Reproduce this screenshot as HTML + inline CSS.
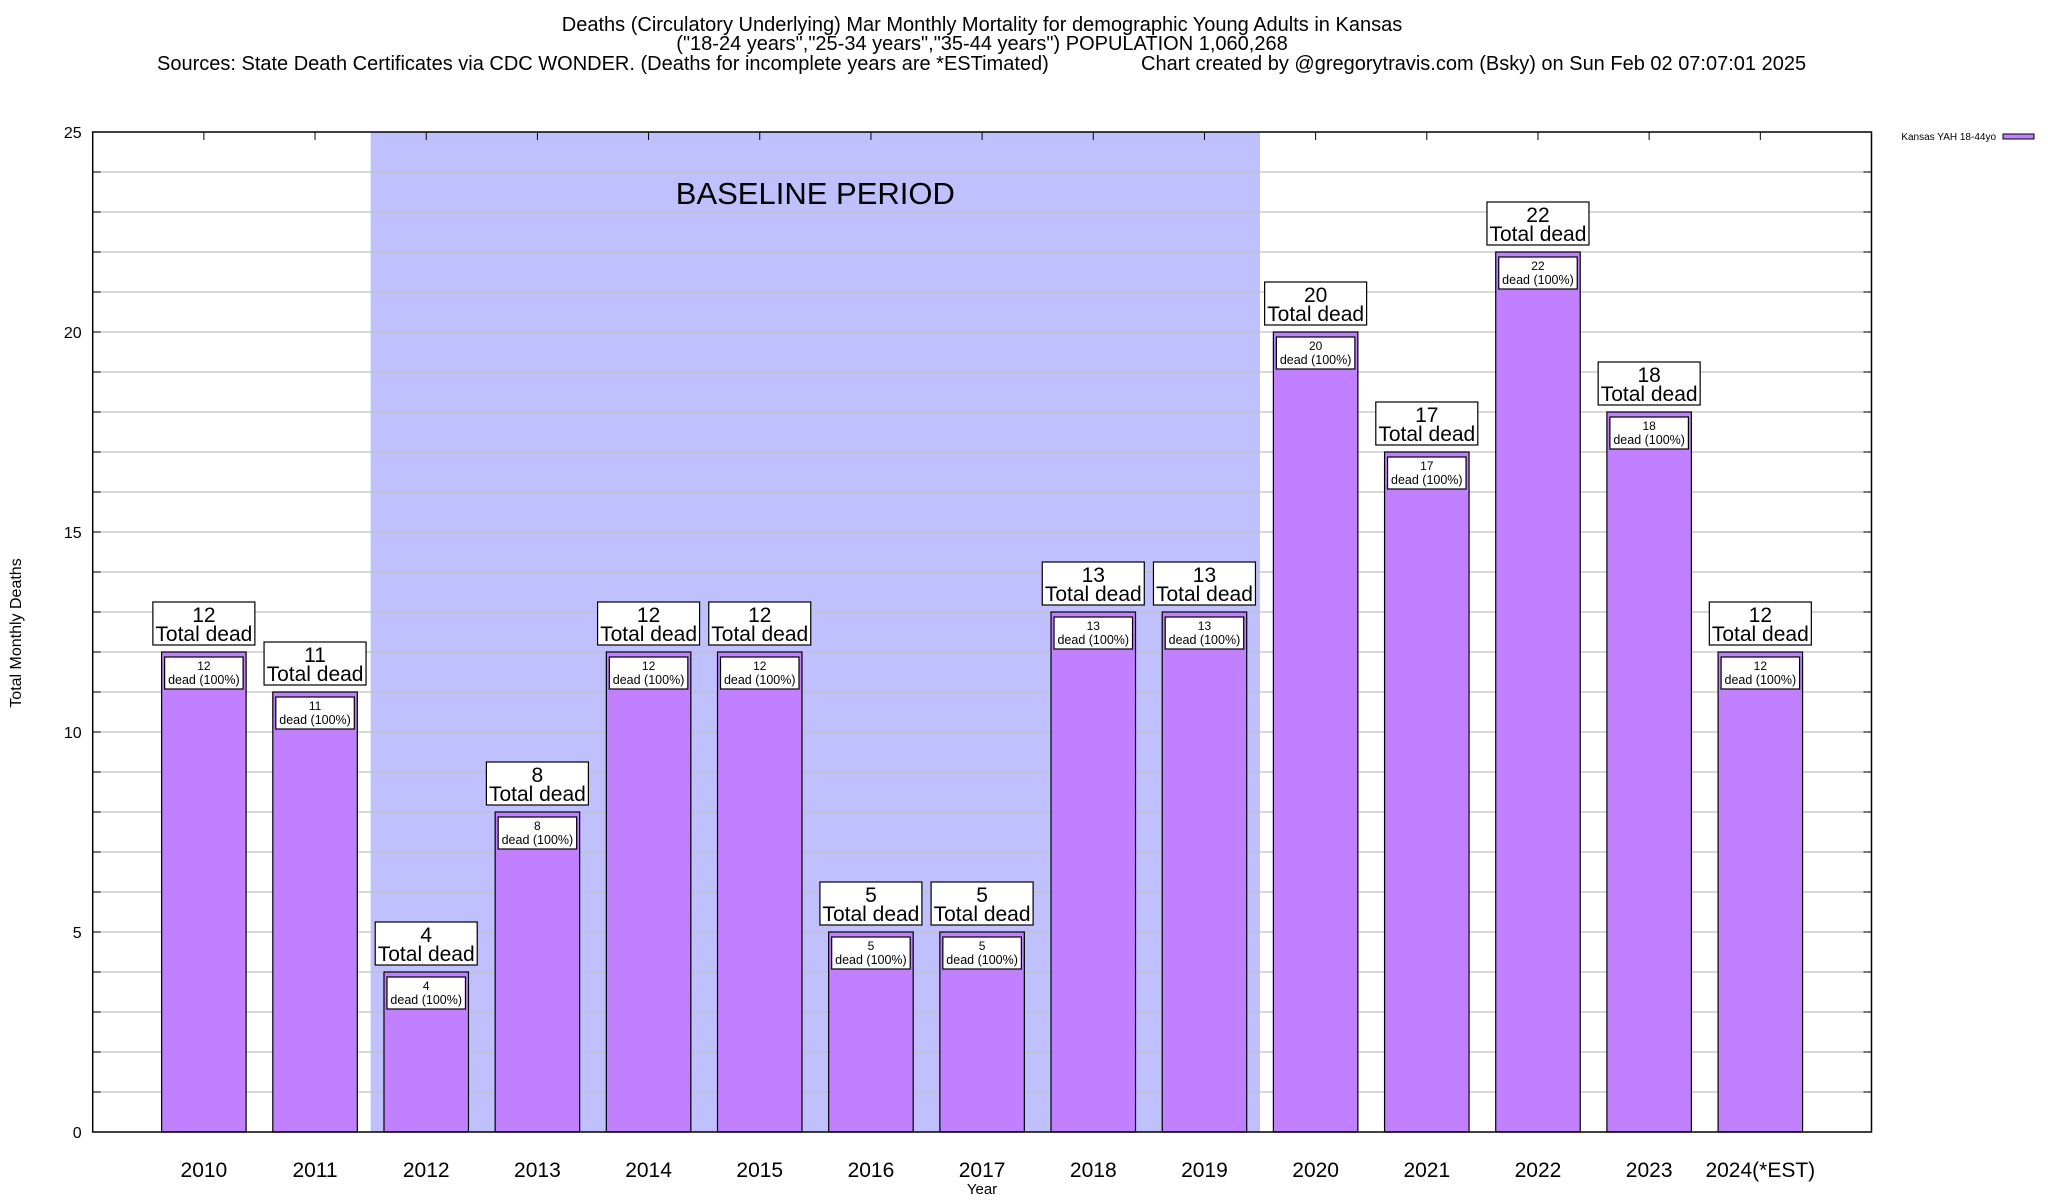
<!DOCTYPE html>
<html><head><meta charset="utf-8"><style>
body{margin:0;background:#fff;}
svg{display:block;font-family:"Liberation Sans",Arial,sans-serif;}
</style></head><body>
<svg id="chart" width="2048" height="1200" viewBox="0 0 2048 1200">
<g font-size="20" text-anchor="middle" fill="#000">
<text x="982" y="31">Deaths (Circulatory Underlying) Mar Monthly Mortality for demographic Young Adults in Kansas</text>
<text x="982" y="50">("18-24 years","25-34 years","35-44 years") POPULATION 1,060,268</text>
<text x="157" y="70" text-anchor="start">Sources: State Death Certificates via CDC WONDER. (Deaths for incomplete years are *ESTimated)</text>
<text x="1141" y="70" text-anchor="start">Chart created by @gregorytravis.com (Bsky) on Sun Feb 02 07:07:01 2025</text>
</g>
<g id="plot"></g>
<text x="982" y="1194" font-size="15" text-anchor="middle">Year</text>
<text transform="translate(21,633) rotate(-90)" font-size="16" text-anchor="middle">Total Monthly Deaths</text>
<g>
<text x="1996" y="140" font-size="10" text-anchor="end">Kansas YAH 18-44yo</text>
<rect x="2003" y="134" width="31" height="5" fill="#c080ff" stroke="#000" stroke-width="1"/>
</g>
</svg>
<script>
const categories = ["2010","2011","2012","2013","2014","2015","2016","2017","2018","2019","2020","2021","2022","2023","2024(*EST)"];
const deaths = [12,11,4,8,12,12,5,5,13,13,20,17,22,18,12];
const yTicks = [0,5,10,15,20,25];
const baselineRange = [1.5, 9.5];

const L=92.7,R=1871.5,T=132,B=1132;
const xMin=-1,xMax=15,yMax=25;
const xs=v=>L+(v-xMin)/(xMax-xMin)*(R-L);
const ys=v=>B-v/yMax*(B-T);
const NS="http://www.w3.org/2000/svg";
const g=document.getElementById('plot');
function mk(tag,attrs,parent){const e=document.createElementNS(NS,tag);for(const k in attrs)e.setAttribute(k,attrs[k]);(parent||g).appendChild(e);return e;}

const sh=mk('rect',{x:xs(baselineRange[0]),y:T,width:xs(baselineRange[1])-xs(baselineRange[0]),height:B-T,fill:'#c0c0ff'});


for(let v=1;v<yMax;v++){
  const l=mk('line',{x1:L,x2:R,y1:ys(v),y2:ys(v),stroke:'#c0c0c0','stroke-width':1.3});
  
  
  mk('line',{x1:R-8,x2:R,y1:ys(v),y2:ys(v),stroke:'#000','stroke-width':1});
  mk('line',{x1:L,x2:L+8,y1:ys(v),y2:ys(v),stroke:'#000','stroke-width':1});
}
const bt=mk('text',{x:(xs(baselineRange[0])+xs(baselineRange[1]))/2,y:204,'font-size':31,'text-anchor':'middle'});
bt.textContent='BASELINE PERIOD';



yTicks.forEach(v=>{
  const t=mk('text',{x:L-11,y:ys(v)+6,'font-size':16,'text-anchor':'end'});
  t.textContent=v;
  
  
});

const bw=0.76*(xs(1)-xs(0));
categories.forEach((c,i)=>{
  const cx=xs(i),v=deaths[i],top=ys(v);
  const bar=mk('rect',{x:cx-bw/2,y:top,width:bw,height:B-top,fill:'#c080ff',stroke:'#000','stroke-width':1.2});
  
  
  const ib=mk('rect',{x:cx-bw/2+3,y:top+5,width:bw-6,height:32,fill:'#fff',stroke:'#000','stroke-width':1.2});
  
  
  const t1=mk('text',{x:cx,y:top+18,'font-size':12,'text-anchor':'middle'});t1.textContent=v;
  const t2=mk('text',{x:cx,y:top+32,'font-size':12.5,'text-anchor':'middle'});t2.textContent='dead (100%)';
  const ob=mk('rect',{x:cx-51,y:top-50,width:102,height:43,fill:'#fff',stroke:'#000','stroke-width':1.2});
  
  
  const t3=mk('text',{x:cx,y:top-30,'font-size':21,'text-anchor':'middle'});t3.textContent=v;
  const t4=mk('text',{x:cx,y:top-11,'font-size':21,'text-anchor':'middle'});t4.textContent='Total dead';
  const xl=mk('text',{x:cx,y:1177,'font-size':21,'text-anchor':'middle'});xl.textContent=c;
  
  
  mk('line',{x1:cx,x2:cx,y1:T,y2:T+8,stroke:'#000','stroke-width':1});
});
const fr=mk('rect',{x:L,y:T,width:R-L,height:B-T,fill:'none',stroke:'#000','stroke-width':1.5});


</script>
</body></html>
